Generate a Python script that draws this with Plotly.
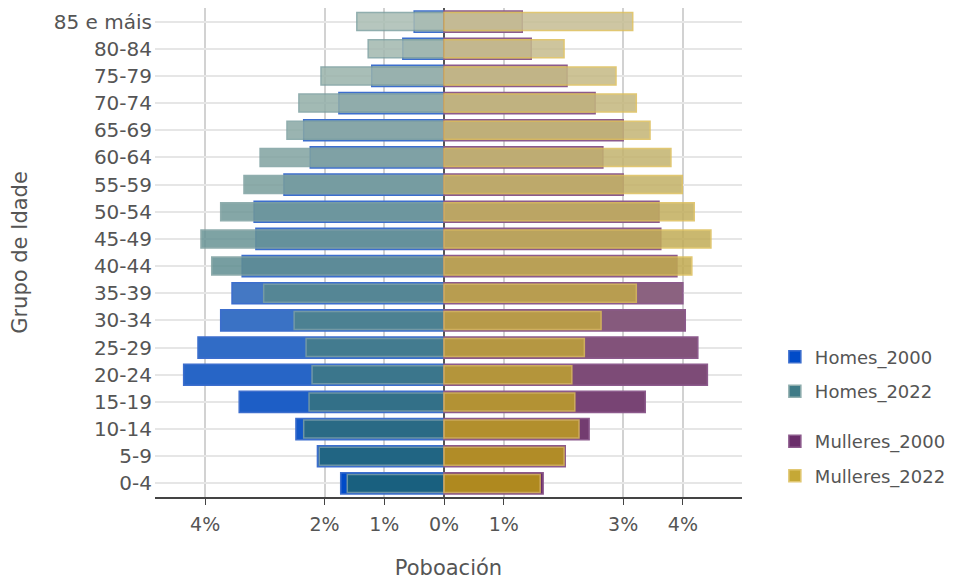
import plotly.graph_objects as go
import numpy as np

grupos = ["0-4", "5-9", "10-14", "15-19", "20-24", "25-29", "30-34", "35-39",
          "40-44", "45-49", "50-54", "55-59", "60-64", "65-69", "70-74",
          "75-79", "80-84", "85 e máis"]

# porcentaxe da poboación total
homes_2000 = [1.73, 2.12, 2.48, 3.43, 4.36, 4.12, 3.74, 3.55, 3.38, 3.15,
              3.18, 2.68, 2.24, 2.35, 1.76, 1.21, 0.69, 0.50]
homes_2022 = [1.62, 2.09, 2.35, 2.26, 2.21, 2.31, 2.51, 3.02, 3.89, 4.07,
              3.74, 3.35, 3.08, 2.63, 2.43, 2.06, 1.27, 1.46]
mulleres_2000 = [1.66, 2.03, 2.43, 3.37, 4.41, 4.25, 4.04, 4.00, 3.90, 3.63,
                 3.60, 3.00, 2.66, 3.00, 2.53, 2.06, 1.46, 1.31]
mulleres_2022 = [1.61, 2.01, 2.26, 2.19, 2.14, 2.35, 2.63, 3.22, 4.15, 4.47,
                 4.19, 3.99, 3.80, 3.45, 3.22, 2.88, 2.01, 3.16]

tickvals = [-4, -2, -1, 0, 1, 3, 4]
ticktext = ["4%", "2%", "1%", "0%", "1%", "3%", "4%"]


def fade(base, target):
    # cor de cada barra: máis apagada canto máis alto o grupo de idade
    t = np.linspace(0, 1, len(grupos)) * 0.85
    cols = []
    for f in t:
        c = [round(b * (1 - f) + g * f) for b, g in zip(base, target)]
        cols.append("rgb(%d,%d,%d)" % tuple(c))
    return cols


gris_h = (195, 205, 190)
gris_m = (200, 195, 170)

fig = go.Figure()
fig.add_trace(go.Bar(y=grupos, x=[-v for v in homes_2000], orientation="h",
                     name="Homes_2000", width=0.78, legend="legend", legendgroup="h1",
                     marker=dict(color=fade((0, 75, 200), gris_h),
                                 line=dict(color="rgb(60,110,205)", width=1.5))))
fig.add_trace(go.Bar(y=grupos, x=[-v for v in homes_2022], orientation="h",
                     name="Homes_2022", width=0.66, opacity=0.85, legend="legend", legendgroup="h2",
                     marker=dict(color=fade((30, 100, 115), gris_h),
                                 line=dict(color="rgb(125,160,160)", width=1.5))))
fig.add_trace(go.Bar(y=grupos, x=mulleres_2000, orientation="h",
                     name="Mulleres_2000", width=0.78, legend="legend2", legendgroup="m1",
                     marker=dict(color=fade((106, 45, 106), gris_m),
                                 line=dict(color="rgb(140,90,140)", width=1.5))))
fig.add_trace(go.Bar(y=grupos, x=mulleres_2022, orientation="h",
                     name="Mulleres_2022", width=0.66, opacity=0.85, legend="legend2", legendgroup="m2",
                     marker=dict(color=fade((188, 154, 19), gris_m),
                                 line=dict(color="rgb(220,190,90)", width=1.5))))

font = dict(family="DejaVu Sans, Verdana, sans-serif", color="#555555")
# a páxina ten 8px de marxe no body: a figura mide 948x573
fig.update_layout(
    width=948, height=573,
    margin=dict(l=147, r=214, t=0, b=84, autoexpand=False),
    barmode="overlay",
    plot_bgcolor="white", paper_bgcolor="white",
    font=dict(size=18, **font),
    legend=dict(x=1.056, y=0.324, yanchor="top", font=dict(size=18, **font),
                tracegroupgap=8),
    legend2=dict(x=1.056, y=0.151, yanchor="top", font=dict(size=18, **font),
                 tracegroupgap=8),
)
fig.update_xaxes(range=[-4.84, 4.99], tickvals=tickvals, ticktext=ticktext,
                 automargin=False,
                 showgrid=True, gridcolor="#d2d2d2", gridwidth=1.5,
                 zeroline=True, zerolinecolor="#555", zerolinewidth=1.5,
                 showline=True, linecolor="#444", linewidth=1.5,
                 ticks="outside", ticklen=6, tickcolor="#444",
                 tickfont=dict(size=19), ticklabelstandoff=3,
                 title=dict(text="Poboación", font=dict(size=21), standoff=27))
fig.update_yaxes(automargin=False,
                 showgrid=True, gridcolor="#e6e6e6", gridwidth=1.5,
                 tickfont=dict(size=20), ticklabelstandoff=2,
                 title=dict(text="Grupo de Idade", font=dict(size=21), standoff=21))

fig.write_html("out.html")
